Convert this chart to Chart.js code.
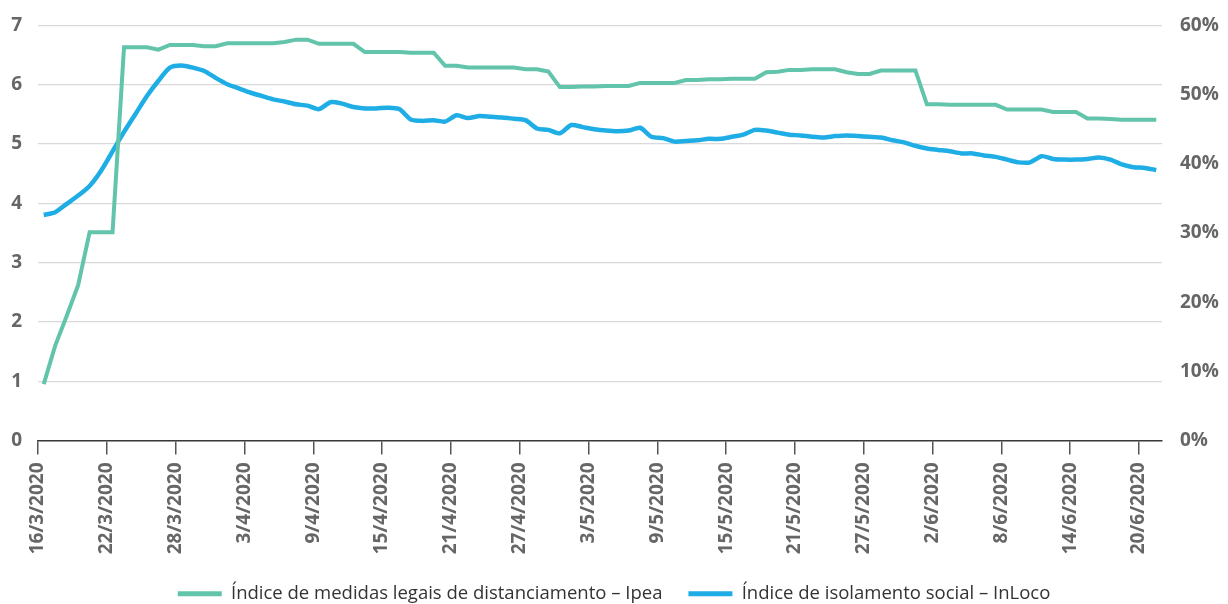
<!DOCTYPE html>
<html>
<head>
<meta charset="utf-8">
<script src="https://cdn.jsdelivr.net/npm/chart.js@4/dist/chart.umd.min.js"></script>
<style>
    html, body { margin: 0; padding: 0; background: #fff; overflow: hidden; }
    #wrap { width: 1228px; height: 604px; overflow: hidden; }
    #jsChart { display: block; margin-top: -4px; }
</style>
</head>
<body>
<div id="wrap"><canvas id="jsChart" width="1228" height="617"></canvas></div>
<script>

// dias de 16/3/2020 a 21/6/2020
const startDay = new Date(2020, 2, 16)
const dayCount = 98
const dates = []
for (let i = 0; i < dayCount; i++) {
    let d = new Date(startDay.getFullYear(), startDay.getMonth(), startDay.getDate() + i)
    dates.push(d.getDate() + '/' + (d.getMonth() + 1) + '/' + d.getFullYear())
}

const ipeaLabel = 'Índice de medidas legais de distanciamento – Ipea'
const inlocoLabel = 'Índice de isolamento social – InLoco'

// Índice Ipea (eixo esquerdo, 0-7)
const ipeaValues = [
    0.95, 1.6, 2.1, 2.62, 3.51, 3.51, 3.51, 6.63, 6.63, 6.63,
    6.59, 6.67, 6.67, 6.67, 6.65, 6.65, 6.70, 6.70, 6.70, 6.70,
    6.70, 6.72, 6.76, 6.76, 6.69, 6.69, 6.69, 6.69, 6.55, 6.55,
    6.55, 6.55, 6.54, 6.54, 6.54, 6.32, 6.32, 6.29, 6.29, 6.29,
    6.29, 6.29, 6.26, 6.26, 6.22, 5.96, 5.96, 5.97, 5.97, 5.98,
    5.98, 5.98, 6.03, 6.03, 6.03, 6.03, 6.08, 6.08, 6.09, 6.09,
    6.10, 6.10, 6.10, 6.21, 6.22, 6.25, 6.25, 6.26, 6.26, 6.26,
    6.21, 6.18, 6.18, 6.24, 6.24, 6.24, 6.24, 5.67, 5.67, 5.66,
    5.66, 5.66, 5.66, 5.66, 5.58, 5.58, 5.58, 5.58, 5.54, 5.54,
    5.54, 5.43, 5.43, 5.42, 5.41, 5.41, 5.41, 5.41
]

// Índice InLoco em % (eixo direito, 0-60%)
const inlocoValues = [
    32.6, 33.0, 34.2, 35.4, 36.8, 39.0, 41.8, 44.6, 47.2, 49.8,
    52.0, 53.9, 54.2, 53.9, 53.4, 52.4, 51.5, 50.9, 50.3, 49.8,
    49.3, 49.0, 48.6, 48.4, 47.9, 48.9, 48.7, 48.2, 48.0, 48.0,
    48.1, 47.9, 46.4, 46.2, 46.3, 46.1, 47.0, 46.6, 46.9, 46.8,
    46.7, 46.5, 46.3, 45.1, 44.9, 44.4, 45.6, 45.3, 45.0, 44.8,
    44.7, 44.8, 45.2, 43.9, 43.7, 43.2, 43.3, 43.4, 43.6, 43.6,
    43.9, 44.2, 44.9, 44.8, 44.5, 44.2, 44.1, 43.9, 43.8, 44.0,
    44.1, 44.0, 43.9, 43.8, 43.4, 43.1, 42.6, 42.2, 42.0, 41.8,
    41.5, 41.5, 41.2, 41.0, 40.6, 40.2, 40.2, 41.1, 40.7, 40.6,
    40.6, 40.7, 40.9, 40.6, 39.9, 39.5, 39.4, 39.1
]

const leftTicks = { min: 0, max: 7, step: 1 }
const rightTicks = { min: 0, max: 60, step: 10 }
const dateStep = 6

const tickColor = '#666666'
const gridColor = '#d9d9d9'
const ipeaColor = '#62c4aa'
const inlocoColor = '#1fade6'

/**
 * @function toPoints
 * @description 把每日數值放在該日區間中央
*/
function toPoints(values) {
    return values.map((v, i) => ({ x: i + 0.5, y: v }))
}

function initChart() {

    Chart.defaults.font.family = "'Open Sans', sans-serif"
    let element = document.getElementById('jsChart')
    let tickFont = { size: 19, weight: 'bold' }

    new Chart(element, {
        type: 'line',
        data: {
            datasets: [{
                label: ipeaLabel,
                data: toPoints(ipeaValues),
                borderColor: ipeaColor,
                backgroundColor: ipeaColor,
                borderWidth: 4,
                pointRadius: 0,
                tension: 0,
                yAxisID: 'y'
            }, {
                label: inlocoLabel,
                data: toPoints(inlocoValues),
                borderColor: inlocoColor,
                backgroundColor: inlocoColor,
                borderWidth: 4.5,
                pointRadius: 0,
                tension: 0.25,
                yAxisID: 'y2'
            }]
        },
        options: {
            responsive: false,
            animation: false,
            layout: { padding: { top: 15, left: 0, right: 0, bottom: 0 } },
            plugins: {
                tooltip: { enabled: false },
                legend: {
                    position: 'bottom',
                    labels: {
                        boxWidth: 44,
                        boxHeight: 5,
                        padding: 26,
                        color: '#333333',
                        font: { size: 18.5 },
                        generateLabels: (chart) => Chart.defaults.plugins.legend.labels.generateLabels(chart)
                            .map((item) => Object.assign(item, { lineWidth: 0 }))
                    }
                }
            },
            scales: {
                x: {
                    type: 'linear',
                    min: 0,
                    max: dayCount,
                    afterFit: (scale) => { scale.height = 118 },
                    grid: {
                        drawOnChartArea: false,
                        drawTicks: true,
                        tickLength: 14,
                        color: '#555555',
                        lineWidth: 1.5
                    },
                    border: { display: true, color: '#3a3a3a', width: 1.5 },
                    ticks: {
                        stepSize: dateStep,
                        includeBounds: false,
                        autoSkip: false,
                        minRotation: 90,
                        maxRotation: 90,
                        padding: 8,
                        color: tickColor,
                        font: tickFont,
                        callback: (value) => dates[value]
                    }
                },
                y: {
                    position: 'left',
                    min: leftTicks.min,
                    max: leftTicks.max,
                    afterFit: (scale) => { scale.width = 38 },
                    grid: { color: gridColor, lineWidth: 1.2, drawTicks: false },
                    border: { display: false },
                    ticks: {
                        stepSize: leftTicks.step,
                        padding: 16,
                        color: tickColor,
                        font: tickFont
                    }
                },
                y2: {
                    position: 'right',
                    min: rightTicks.min,
                    max: rightTicks.max,
                    afterFit: (scale) => { scale.width = 66 },
                    grid: { drawOnChartArea: false, drawTicks: false },
                    border: { display: false },
                    ticks: {
                        stepSize: rightTicks.step,
                        padding: 18,
                        color: tickColor,
                        font: tickFont,
                        callback: (value) => value + '%'
                    }
                }
            }
        }
    })

    return true
}

initChart()
</script>
</body>
</html>
